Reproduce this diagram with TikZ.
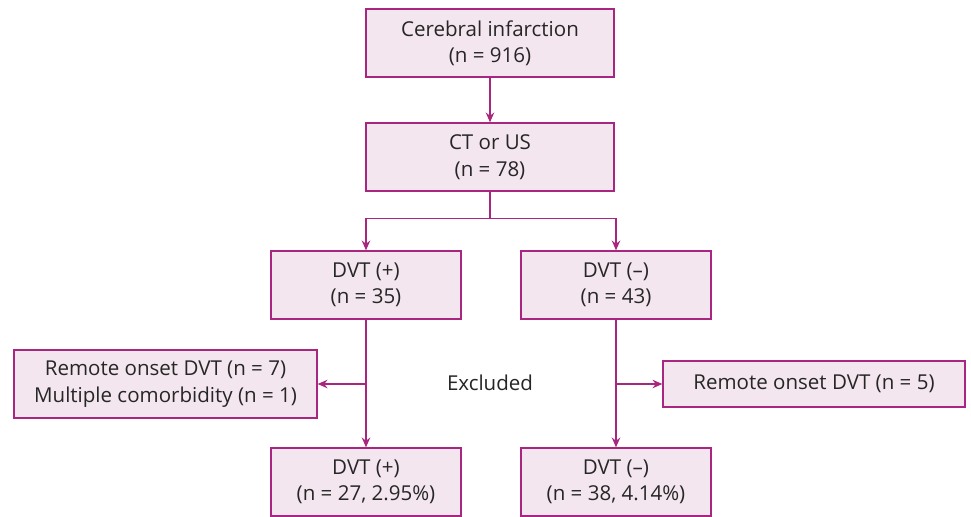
\documentclass[tikz,border=0pt]{standalone}
\usepackage{fontspec}
\setmainfont{Open Sans}
\usetikzlibrary{arrows.meta}
\definecolor{boxline}{HTML}{A8267F}
\definecolor{boxfill}{HTML}{F4E6EF}
\definecolor{txt}{HTML}{262626}

\begin{document}
\begin{tikzpicture}[
  box/.style={draw=boxline,fill=boxfill,line width=0.9pt,align=center,inner sep=0pt,
    text=txt,font=\fontsize{14.6}{18.8}\selectfont},
  link/.style={draw=boxline,line width=0.9pt},
  arr/.style={link,-{Stealth[length=7pt,width=6pt]}}]
\useasboundingbox (0,0) rectangle (24.275,-12.9);

\node[box,minimum width=6.2cm,minimum height=1.7cm] (infarct) at (12.25,-1.075) {Cerebral infarction\\(n = 916)};
\node[box,minimum width=6.2cm,minimum height=1.7cm] (ctus) at (12.25,-3.925) {CT or US\\(n = 78)};

\node[box,minimum width=4.75cm,minimum height=1.7cm] (pos) at (9.15,-7.125) {DVT (+)\\(n = 35)};
\node[box,minimum width=4.75cm,minimum height=1.7cm] (neg) at (15.4,-7.125) {DVT (–)\\(n = 43)};

\node[box,minimum width=7.575cm,minimum height=1.7cm] (exl) at (4.1375,-9.6) {Remote onset DVT (n = 7)\\Multiple comorbidity (n = 1)};
\node[box,minimum width=7.55cm,minimum height=1.15cm] (exr) at (20.35,-9.6) {Remote onset DVT (n = 5)};
\node[text=txt,font=\fontsize{14.6}{18.8}\selectfont] (excl) at (12.25,-9.575) {Excluded};

\node[box,minimum width=4.75cm,minimum height=1.7cm] (fpos) at (9.15,-12.05) {DVT (+)\\(n = 27, 2.95\%)};
\node[box,minimum width=4.75cm,minimum height=1.7cm] (fneg) at (15.4,-12.05) {DVT (–)\\(n = 38, 4.14\%)};

\draw[arr] (infarct) -- (ctus);
\draw[link] (ctus.south) -- ++(0,-0.675) coordinate (split);
\draw[arr] (split) -| (pos);
\draw[arr] (split) -| (neg);

\draw[arr] (pos) -- (fpos);
\draw[arr] (neg) -- (fneg);

\draw[arr] (pos |- exl) -- (exl);
\draw[arr] (neg |- exr) -- (exr);

\end{tikzpicture}
\end{document}
